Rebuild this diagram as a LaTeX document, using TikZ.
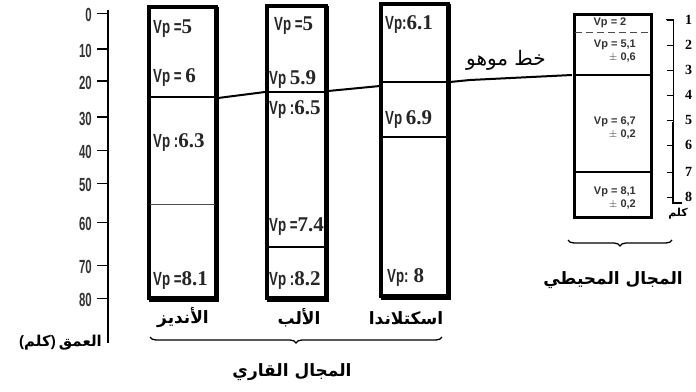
\documentclass[tikz,border=0pt]{standalone}
\usepackage{fontspec}
\usetikzlibrary{decorations.pathreplacing}
\TeXXeTstate=1
\newfontfamily\arabicfont[Script=Arabic]{DejaVu Sans}
\newfontfamily\vpfont[FakeStretch=0.7]{Liberation Sans}
\newfontfamily\numfont{Liberation Serif}
\newfontfamily\axfont[FakeStretch=0.6]{Liberation Sans}
\newfontfamily\ocfont{Liberation Sans}
\newcommand\vpl[1]{{\vpfont\bfseries\fontsize{19}{19}\selectfont #1}}
\newcommand\vpn[1]{{\numfont\bfseries\fontsize{21}{21}\selectfont #1}}
\tikzset{
  vp/.style={anchor=west,inner sep=0pt,text=black!85},
  colbox/.style={line width=3.5pt},
  colshade/.style={line width=3pt},
  moho/.style={line width=2pt},
  layer/.style={line width=1.5pt},
  thinlayer/.style={line width=1pt,black!70},
  axlab/.style={anchor=east,inner sep=0pt,font=\axfont\bfseries\fontsize{19}{19}\selectfont,text=black!80},
  rlab/.style={anchor=west,inner sep=0pt,font=\numfont\bfseries\fontsize{14}{14}\selectfont},
  oclab/.style={inner sep=0pt,font=\ocfont\bfseries\fontsize{11}{13}\selectfont,text=black!80,align=right},
  arlab/.style={inner sep=0pt,font=\arabicfont\bfseries\fontsize{17}{18}\selectfont},
  axname/.style={inner sep=0pt,font=\arabicfont\bfseries\fontsize{15}{16}\selectfont},
  bracestyle/.style={decorate,decoration={brace,mirror,amplitude=6pt},line width=1.3pt}
}
\begin{document}
\begin{tikzpicture}[x=1pt,y=-1pt]
\clip (0,0) rectangle (696,391);
\fill[white] (0,0) rectangle (696,391);

% ---- left depth axis
\coordinate (axtop) at (108,10);
\coordinate (axbot) at (108,343);
\draw[line width=1.5pt] (axtop) -- (axbot);
\foreach \v/\y/\w in {0/13/1, 10/49/2.5, 20/81/2.5, 30/117/2.5, 40/150/1, 50/183/1, 60/222/1, 70/265/1, 80/298/1}{
  \draw[line width=\w pt] (97,\y) -- (108,\y);
  \node[axlab] at (92,\y+2) {\v};
}
\node[axname,anchor=east] (axname) at (102,343) {العمق};
\node[axname,anchor=east] (axunit) at (56,343) {{\ocfont (}كلم{\ocfont )}};

% ---- column 1: Andes
\draw[colbox] (149,7) rectangle (216,298);
\draw[colshade] (217,7) -- (217,300) -- (149,300);
\draw[layer] (150,97) -- (215,97);
\draw[thinlayer] (150,204) -- (215,204);
\node[vp] (c1a) at (153,29) {\vpl{Vp =}\vpn{5}};
\node[vp] (c1b) at (153,78) {\vpl{Vp = }\vpn{6}};
\node[vp] (c1c) at (153,143) {\vpl{Vp :}\vpn{6.3}};
\node[vp] (c1d) at (153,280) {\vpl{Vp =}\vpn{8.1}};
\coordinate (m1) at (218,98);

% ---- column 2: Alps
\draw[colbox] (267,6) rectangle (326,298);
\draw[colshade] (327,6) -- (327,300) -- (267,300);
\draw[layer] (268,92) -- (325,92);
\draw[layer] (268,247) -- (325,247);
\node[vp] (c2a) at (274,26) {\vpl{Vp =}\vpn{5}};
\node[vp] (c2b) at (269,80) {\vpl{Vp }\vpn{5.9}};
\node[vp] (c2c) at (269,110) {\vpl{Vp :}\vpn{6.5}};
\node[vp] (c2d) at (269,227) {\vpl{Vp =}\vpn{7.4}};
\node[vp] (c2e) at (269,280) {\vpl{Vp :}\vpn{8.2}};
\coordinate (m2l) at (265,92);
\coordinate (m2r) at (328,91);

% ---- column 3: Scotland
\draw[colbox] (381,4) rectangle (448,296);
\draw[colshade] (449,4) -- (449,298) -- (381,298);
\draw[line width=2.5pt] (382,82) -- (447,82);
\draw[layer] (382,137) -- (447,137);
\node[vp] (c3a) at (385,25) {\vpl{Vp:}\vpn{6.1}};
\node[vp] (c3b) at (385,120) {\vpl{Vp }\vpn{6.9}};
\node[vp] (c3c) at (387,277) {\vpl{Vp: }\vpn{8}};
\coordinate (m3l) at (380,86);
\coordinate (m3r) at (450,82);

% ---- oceanic column
\draw[line width=3pt] (574,14) rectangle (651,217);
\draw[line width=1pt,black!70,dash pattern=on 7pt off 4pt] (575,32) -- (650,32);
\draw[layer] (575,75) -- (650,75);
\draw[layer] (575,172) -- (650,172);
\node[oclab] (o1) at (610,23) {Vp = 2};
\node[oclab,anchor=north east] (o2) at (636,40) {Vp = 5,1\\$\pm$ 0,6};
\node[oclab,anchor=north east] (o3) at (636,117) {Vp = 6,7\\$\pm$ 0,2};
\node[oclab,anchor=north east] (o4) at (636,187) {Vp = 8,1\\$\pm$ 0,2};
\coordinate (m4) at (572,75);
\coordinate (mk) at (470,80);

% ---- Moho line
\draw[moho] (m1) -- (m2l);
\draw[moho] (m2r) -- (m3l);
\draw[moho] (m3r) -- (mk) -- (m4);
\node[inner sep=0pt,font=\arabicfont\fontsize{20}{21}\selectfont] (mohoname) at (506,60) {\beginR خط موهو\endR};

% ---- right scale
\draw[line width=1pt] (666,19) -- (673,19) -- (673,123);
\draw[line width=2pt] (673,122) -- (673,203) -- (682,203);
\foreach \v/\y in {1/20, 2/45, 3/70, 4/95, 5/120, 6/145, 7/172, 8/197}{
  \draw[line width=1pt] (667,\y) -- (673,\y);
  \node[rlab] at (685,\y) {\v};
}
\node[inner sep=0pt,font=\arabicfont\bfseries\fontsize{11}{12}\selectfont] (kmr) at (678,214) {كلم};

% ---- labels under columns
\node[arlab] (andes) at (183,318) {الأنديز};
\node[arlab] (alps) at (299,318) {الألب};
\node[arlab] (scot) at (406,318) {اسكتلاندا};

% ---- braces
\coordinate (b1l) at (150,337);
\coordinate (b1r) at (442,337);
\draw[bracestyle] (b1l) -- (b1r);
\node[arlab] (cont) at (292,372) {\beginR المجال القاري\endR};
\coordinate (b2l) at (568,240);
\coordinate (b2r) at (672,240);
\draw[bracestyle] (b2l) -- (b2r);
\node[arlab] (ocean) at (613,280) {\beginR المجال المحيطي\endR};
\end{tikzpicture}
\end{document}
